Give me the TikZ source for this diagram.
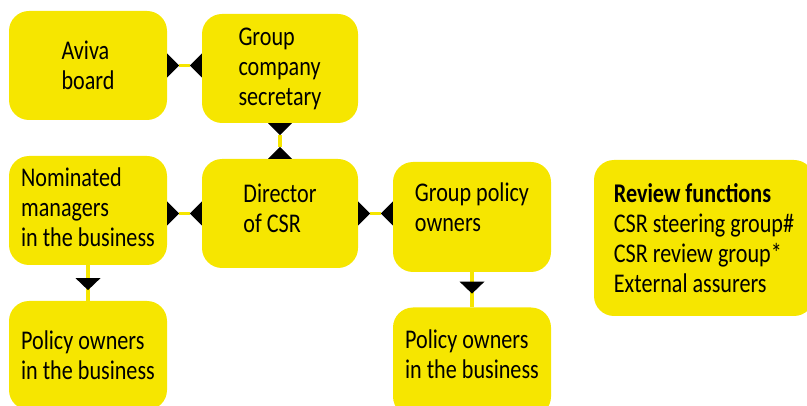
\documentclass[tikz,border=0pt]{standalone}
\usepackage{fontspec}
\setmainfont{Carlito}[FakeStretch=0.82]
\usetikzlibrary{positioning, arrows.meta, decorations.markings}
\definecolor{avivayellow}{RGB}{246,230,0}

\tikzset{Tie/.tip={Triangle[reversed, length=12pt, width=24pt, line width=0pt, color=black]}}

\begin{document}
\begin{tikzpicture}[node distance = 145pt and 192pt, on grid,
    box/.style = {rectangle, rounded corners=20pt, fill=avivayellow, inner sep=0pt,
      minimum width=158pt, minimum height=109pt, align=left,
      font=\fontsize{27pt}{30pt}\selectfont},
    link/.style = {draw=avivayellow, line width=3.5pt},
    tie/.style = {Tie-Tie},
    down arrow/.style = {postaction={decorate}, decoration={markings,
      mark=at position #1 with {\arrow{Triangle[length=12pt, width=25pt, line width=0pt, color=black]}}}}]
  \useasboundingbox (0,0) rectangle (807pt,-406pt);
  \node[box] (aviva) at (88pt,-65.5pt) {Aviva\\board};
  \node[box, minimum width=156pt] (secretary) [right=of aviva, yshift=-3pt] {Group\\company\\secretary};
  \node[box, text depth=6pt] (nominated) [below=of aviva] {Nominated\\managers\\in the business};
  \node[box, minimum width=156pt, text depth=10pt] (director) [below=of secretary] {Director\\of CSR};
  \node[box, minimum height=110pt, text depth=20pt] (group) [right=of director, yshift=-3.5pt] {Group policy\\owners};
  \node[box] (ownersL) [below=of nominated] {Policy owners\\in the business};
  \node[box, text depth=16pt] (ownersR) [below=of group] {Policy owners\\in the business};
  \node[box, minimum width=220pt, minimum height=156pt] (review) [right=232pt of group, yshift=-21pt]
    {\textbf{Review functions}\\CSR steering group\#\\CSR review group*\\External assurers};
  \draw[link, tie] (aviva.east) -- (aviva.east -| secretary.west);
  \draw[link, tie] (secretary.south) -- (director.north);
  \draw[link, tie] (director.west -| nominated.east) -- (director.west);
  \draw[link, tie] (director.east) -- (director.east -| group.west);
  \draw[link, down arrow=0.7] (nominated.south) -- (ownersL.north);
  \draw[link, down arrow=0.61] (group.south) -- (ownersR.north);
\end{tikzpicture}
\end{document}
